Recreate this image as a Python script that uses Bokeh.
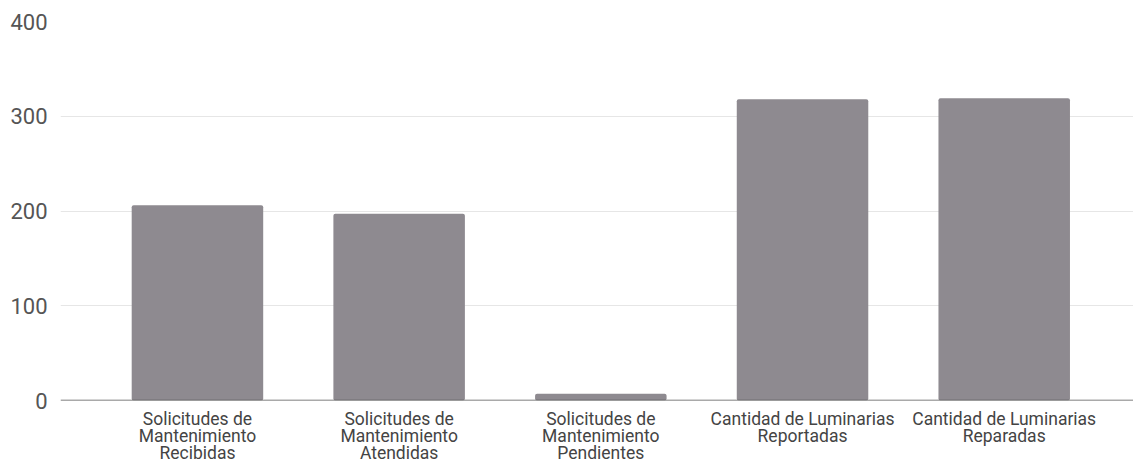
from bokeh.plotting import figure
from bokeh.models import Range1d, ColumnDataSource, FixedTicker, Span
from bokeh.embed import file_html
from bokeh.resources import INLINE

categories = [
    "Solicitudes de\nMantenimiento\nRecibidas",
    "Solicitudes de\nMantenimiento\nAtendidas",
    "Solicitudes de\nMantenimiento\nPendientes",
    "Cantidad de Luminarias\nReportadas",
    "Cantidad de Luminarias\nReparadas",
]
values = [206, 197, 7, 318, 319]
y_ticks = [0, 100, 200, 300, 400]

positions = list(range(len(categories)))
src = ColumnDataSource(dict(x=positions, top=values))

p = figure(frame_width=1073, frame_height=379, output_backend="svg", toolbar_location=None,
           x_range=Range1d(-0.679, 4.641), y_range=Range1d(0, 400),
           min_border_left=60, min_border_right=0, min_border_top=21, min_border_bottom=0)
p.outline_line_color = None
p.background_fill_color = "white"
p.border_fill_color = "white"

p.vbar(x="x", top="top", width=0.652, source=src, fill_color="#8e8a90",
       line_color=None, border_radius=2)

p.yaxis.ticker = FixedTicker(ticks=y_ticks)
p.yaxis.axis_line_color = None
p.yaxis.major_tick_line_color = None
p.yaxis.minor_tick_line_color = None
p.yaxis.major_label_text_font = "Roboto"
p.yaxis.major_label_text_font_size = "22px"
p.yaxis.major_label_text_color = "#555555"
p.yaxis.major_label_standoff = 7

p.xaxis.ticker = FixedTicker(ticks=positions)
p.xaxis.major_label_overrides = {i: c for i, c in enumerate(categories)}
p.xaxis.axis_line_color = None
p.xaxis.major_tick_line_color = None
p.xaxis.minor_tick_line_color = None
p.xaxis.major_label_text_font = "Roboto"
p.xaxis.major_label_text_font_size = "17.5px"
p.xaxis.major_label_text_color = "#444444"
p.xaxis.major_label_standoff = 2
p.xaxis.major_label_text_line_height = 0.85

p.xgrid.grid_line_color = None
p.ygrid.grid_line_color = "#e6e6e6"
p.ygrid.grid_line_width = 1

zero = Span(location=0, dimension="width", line_color="#555555", line_width=1.5)
p.add_layout(zero)

open("out.html", "w").write(file_html(p, INLINE))
